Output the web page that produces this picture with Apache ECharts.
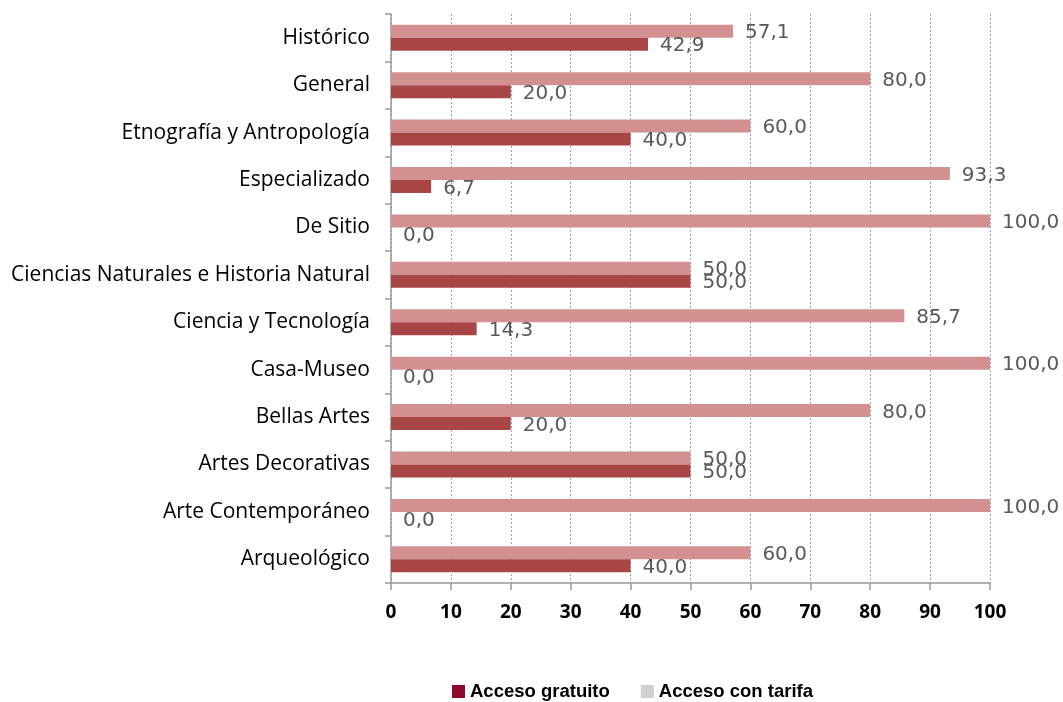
<!DOCTYPE html>
<html>
<head>
<meta charset="utf-8">
<script src="https://cdn.jsdelivr.net/npm/echarts@6/dist/echarts.min.js"></script>
<style>
html,body{margin:0;padding:0;background:#fff;}
#chart{width:1063px;height:702px;}
</style>
</head>
<body>
<div id="chart"></div>
<script>
var categories = ['Arqueológico','Arte Contemporáneo','Artes Decorativas','Bellas Artes','Casa-Museo','Ciencia y Tecnología','Ciencias Naturales e Historia Natural','De Sitio','Especializado','Etnografía y Antropología','General','Histórico'];
var gratuito = [40.0, 0.0, 50.0, 20.0, 0.0, 14.3, 50.0, 0.0, 6.7, 40.0, 20.0, 42.9];
var tarifa = [60.0, 100.0, 50.0, 80.0, 100.0, 85.7, 50.0, 100.0, 93.3, 60.0, 80.0, 57.1];
var xTicks = [0,10,20,30,40,50,60,70,80,90,100];

var chart = echarts.init(document.getElementById('chart'));
function fmt(p){ return p.value.toFixed(1).replace('.', ','); }
var labelStyle = {
  show: true, position: 'right', distance: 12, formatter: fmt, offset: [0, 2],
  color: '#595959', fontFamily: 'DejaVu Sans', fontSize: 20
};
chart.setOption({
  animation: false,
  grid: {left: 391, right: 73, top: 14, bottom: 119, containLabel: false},
  legend: {
    left: 447, top: 677, itemWidth: 13, itemHeight: 13, itemGap: 31,
    icon: 'rect',
    textStyle: {fontFamily: 'Liberation Sans', fontWeight: 'bold', fontSize: 18.5, color: '#000'},
    data: [
      {name: 'Acceso gratuito', itemStyle: {color: '#8B0A2E'}},
      {name: 'Acceso con tarifa', itemStyle: {color: '#D0D0D3'}}
    ]
  },
  xAxis: {
    type: 'value', min: 0, max: 100, interval: 10,
    axisLine: {show: true, lineStyle: {color: '#9A9A9A', width: 1.5}},
    axisTick: {show: true, length: 7, lineStyle: {color: '#9A9A9A', width: 1.5}},
    axisLabel: {margin: 20, color: '#000', fontFamily: 'Open Sans', fontWeight: 'bold', fontSize: 19,
      formatter: function(v){ return xTicks.indexOf(v) >= 0 ? String(v) : ''; }},
    splitLine: {show: true, lineStyle: {color: '#A0A0A0', type: [2, 2], width: 1}}
  },
  yAxis: {
    type: 'category', data: categories,
    axisLine: {show: true, lineStyle: {color: '#9A9A9A', width: 1.5}},
    axisTick: {show: true, length: 6, lineStyle: {color: '#9A9A9A', width: 1.5}},
    axisLabel: {margin: 21, color: '#000', fontFamily: 'Open Sans', fontSize: 21},
    splitLine: {show: false}
  },
  series: [
    {name: 'Acceso con tarifa', type: 'bar', data: tarifa, barWidth: 13, barGap: '0%', barCategoryGap: '45%',
     itemStyle: {color: '#D29090'}, label: labelStyle},
    {name: 'Acceso gratuito', type: 'bar', data: gratuito, barWidth: 13, barGap: '0%',
     itemStyle: {color: '#A84646'}, label: labelStyle}
  ]
});
</script>
</body>
</html>
